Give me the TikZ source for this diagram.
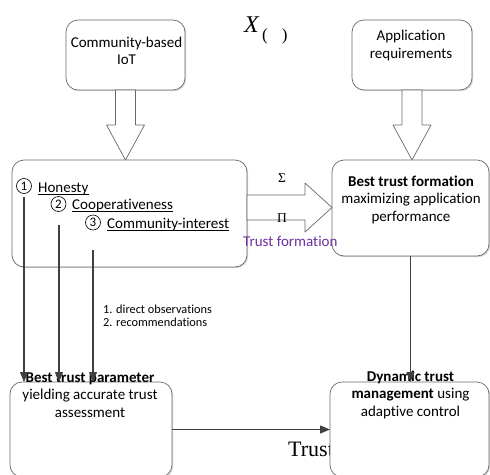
\documentclass[tikz,border=0pt]{standalone}
\usepackage{fontspec}
\setmainfont{Carlito}[Ligatures={NoCommon}]
\newfontfamily\serifface{Liberation Serif}
\usetikzlibrary{arrows.meta,calc,shadows}
\definecolor{trustpurple}{RGB}{112,48,160}
\definecolor{edgegray}{RGB}{105,105,105}
\definecolor{linkgray}{RGB}{64,64,64}
\newcommand\boxlines[1]{\begin{tabular}[t]{@{}c@{}}#1\end{tabular}}
\newcommand\leftlines[1]{\begin{tabular}[t]{@{}l@{}}#1\end{tabular}}
\begin{document}
\begin{tikzpicture}[x=1pt,y=-1pt,
  roundbox/.style={draw=edgegray, fill=white, line width=0.7pt, rounded corners=12pt,
    inner sep=0pt, outer sep=0pt,
    drop shadow={shadow xshift=1.2pt, shadow yshift=-1.2pt, opacity=0.3, fill=gray}},
  fatarrow/.style={draw=edgegray, fill=white, line width=0.7pt, line join=round},
  boxtext/.style={inner sep=0pt, anchor=base, font=\fontsize{15}{17.5}\selectfont},
  itemtext/.style={inner sep=0pt, anchor=base west, font=\fontsize{15}{17.5}\selectfont},
  numcircle/.style={draw=black, circle, line width=0.6pt, minimum size=15pt, inner sep=0pt,
    font=\fontsize{13}{13}\selectfont},
  uline/.style={draw=black, line width=0.8pt},
  greek/.style={inner sep=0pt, font=\serifface\fontsize{13.5}{13.5}\selectfont},
  link/.style={draw=linkgray, line width=1.1pt, -{Triangle[length=10pt,width=8pt]}}
]
\path[use as bounding box, fill=white] (0,0) rectangle (490,474);

% large serif word partly hidden behind the control box
\node[inner sep=0pt, anchor=base west, font=\serifface\fontsize{22}{22}\selectfont]
  (tword) at (288,456) {Trust};

% X with empty argument
\node[inner sep=0pt, anchor=base west, font=\serifface\itshape\fontsize{24}{24}\selectfont]
  (xsym) at (244,32) {X};
\node[inner sep=0pt, anchor=base west, font=\serifface\fontsize{17}{17}\selectfont]
  (xsub) at (262,40) {(\hspace{14pt})};

% boxes
\node[roundbox, minimum width=119pt, minimum height=70pt] (cb) at (125.5,55) {};
\node[roundbox, minimum width=120pt, minimum height=70pt] (ab) at (412,55) {};
\node[roundbox, minimum width=235pt, minimum height=107pt] (lb) at (129.5,213.5) {};
\node[roundbox, minimum width=157pt, minimum height=96pt] (rb) at (410.5,208) {};
\node[roundbox, minimum width=162pt, minimum height=95pt] (bl) at (91,429.5) {};
\node[roundbox, minimum width=159pt, minimum height=95pt] (br) at (409.5,429.5) {};

% block arrows
\draw[fatarrow] (cb.south) ++(-10,0) -- ++(0,35) -- ++(-9,0) -- (cb.south |- lb.north)
  -- ++(19,-35) -- ++(-9,0) -- ++(0,-35) -- cycle;
\draw[fatarrow] (ab.south) ++(-10,0) -- ++(0,35) -- ++(-9,0) -- (ab.south |- rb.north)
  -- ++(19,-35) -- ++(-9,0) -- ++(0,-35) -- cycle;
\coordinate (ra) at ($(lb.east)+(0,-6)$);
\draw[fatarrow] ($(ra)+(0,-12.5)$) -- ++(58,0) -- ++(0,-12) -- (ra -| rb.west)
  -- ++(-27,24.5) -- ++(0,-12) -- ($(ra)+(0,12.5)$) -- cycle;

% box texts
\node[boxtext] (cbt) at (126.5,47) {\boxlines{Community-based\\IoT}};
\node[boxtext] (abt) at (411,40.5) {\boxlines{Application\\requirements}};
\node[boxtext] (rbt) at (411,186) {\boxlines{\textbf{Best trust formation}\\maximizing application\\performance}};
\node[boxtext] (blt) at (90,382) {\boxlines{\textbf{Best trust parameter}\\yielding accurate trust\\assessment}};
\node[boxtext] (brt) at (410.5,381) {\boxlines{\textbf{Dynamic trust}\\\textbf{management} using\\adaptive control}};

% trust properties
\node[numcircle] (c1) at (24,186) {1};
\node[numcircle] (c2) at (58.5,204) {2};
\node[numcircle] (c3) at (93,222.5) {3};
\node[itemtext] (hon) at (38,192) {Honesty};
\node[itemtext] (coop) at (72,209.5) {Cooperativeness};
\node[itemtext] (comm) at (107,228) {Community-interest};
\draw[uline] ([yshift=-2pt]hon.base west) -- ([yshift=-2pt]hon.base east);
\draw[uline] ([yshift=-2pt]coop.base west) -- ([yshift=-2pt]coop.base east);
\draw[uline] ([yshift=-2pt]comm.base west) -- ([yshift=-2pt]comm.base east);

% operators and label on the block arrow
\node[greek] (sig) at (282,178) {Σ};
\node[greek] (pro) at (282,218) {Π};
\node[itemtext, text=trustpurple] (tf) at (243,246) {Trust formation};

% sources of evidence
\node[inner sep=0pt, anchor=base west, font=\fontsize{12.3}{13}\selectfont]
  (src) at (103,313) {\leftlines{1. direct observations\\2. recommendations}};

% connectors
\coordinate (s1) at (24,197);
\coordinate (s2) at (59,225);
\coordinate (s3) at (93,250);
\draw[link] (s1) -- (s1 |- bl.north);
\draw[link] (s2) -- (s2 |- bl.north);
\draw[link] (s3) -- (s3 |- bl.north);
\draw[link] (rb.south) -- (rb.south |- br.north);
\draw[link] (bl.east) -- (bl.east -| br.west);
\end{tikzpicture}
\end{document}
